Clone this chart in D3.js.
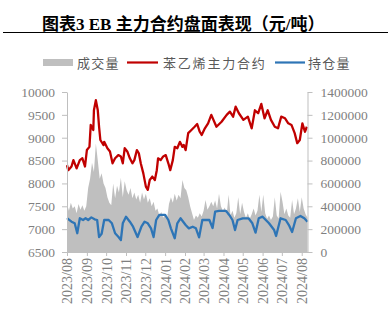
<!DOCTYPE html>
<html><head><meta charset="utf-8">
<script src="https://cdn.jsdelivr.net/npm/d3@7/dist/d3.min.js"></script>
<style>
html,body{margin:0;padding:0;background:#fff;}
svg{display:block;}
</style></head>
<body>
<svg id="c" width="388" height="326"></svg>
<script>
// ---------- DATA ----------
const titleText = "图表3 EB 主力合约盘面表现（元/吨）";
const legendLabels = ["成交量", "苯乙烯主力合约", "持仓量"];
const leftTicks = [6500, 7000, 7500, 8000, 8500, 9000, 9500, 10000];
const rightTicks = [0, 200000, 400000, 600000, 800000, 1000000, 1200000, 1400000];
const monthTicks = ["2023/08","2023/09","2023/10","2023/11","2023/12","2024/01","2024/02","2024/03","2024/04","2024/05","2024/06","2024/07","2024/08"];

// 苯乙烯主力合约 price (元/吨), left axis
const priceDates = ["2023-08-01","2023-08-03","2023-08-08","2023-08-11","2023-08-16","2023-08-21","2023-08-25","2023-08-29",
 "2023-09-01","2023-09-05","2023-09-07","2023-09-11","2023-09-12","2023-09-15","2023-09-18","2023-09-20","2023-09-22","2023-09-27","2023-09-28",
 "2023-10-03","2023-10-07","2023-10-11","2023-10-15","2023-10-20","2023-10-24","2023-10-27","2023-10-30",
 "2023-11-03","2023-11-07","2023-11-11","2023-11-14","2023-11-18","2023-11-21","2023-11-24","2023-11-28",
 "2023-12-02","2023-12-05","2023-12-08","2023-12-12","2023-12-16","2023-12-19","2023-12-21","2023-12-25","2023-12-29",
 "2024-01-02","2024-01-06","2024-01-09","2024-01-13","2024-01-16","2024-01-20","2024-01-24","2024-01-28","2024-01-30",
 "2024-02-02","2024-02-06","2024-02-11","2024-02-16","2024-02-20","2024-02-24","2024-02-27",
 "2024-03-03","2024-03-08","2024-03-13","2024-03-21","2024-03-29",
 "2024-04-06","2024-04-11","2024-04-16","2024-04-20","2024-04-25",
 "2024-05-02","2024-05-09","2024-05-15","2024-05-20","2024-05-25","2024-05-30",
 "2024-06-04","2024-06-09","2024-06-14","2024-06-20","2024-06-25","2024-06-30",
 "2024-07-06","2024-07-11","2024-07-16","2024-07-21","2024-07-25","2024-07-29",
 "2024-08-02","2024-08-06","2024-08-09"];
const priceValues = [8400,8290,8370,8510,8330,8510,8550,8370,
 8730,8800,9280,9170,9600,9820,9600,9240,8950,8840,8910,
 8770,8700,8440,8550,8620,8590,8440,8770,
 8700,8550,8440,8510,8730,8660,8440,8220,
 7930,7860,8075,8150,8075,8290,8550,8510,8590,
 8620,8440,8290,8510,8800,8770,8910,8800,8840,
 8730,9100,9170,9240,9300,9130,9060,
 9205,9315,9500,9240,9350,
 9500,9570,9460,9680,9535,
 9390,9460,9205,9600,9535,9740,
 9425,9600,9390,9240,9205,9460,
 9425,9315,9280,9100,8880,8950,
 9315,9130,9240];

// 持仓量 open interest, right axis
const oiDates = ["2023-08-01","2023-08-08","2023-08-13","2023-08-17","2023-08-21","2023-08-26","2023-08-30","2023-09-03","2023-09-08","2023-09-13",
 "2023-09-17","2023-09-20","2023-09-24","2023-09-28","2023-10-05","2023-10-10","2023-10-15","2023-10-20","2023-10-24","2023-10-27",
 "2023-11-01","2023-11-07","2023-11-12","2023-11-19","2023-11-25","2023-11-30","2023-12-05","2023-12-10","2023-12-14",
 "2023-12-18","2023-12-23","2024-01-01","2024-01-06","2024-01-10","2024-01-16","2024-01-20","2024-01-25",
 "2024-02-02","2024-02-07","2024-02-13","2024-02-18","2024-02-23","2024-02-28","2024-03-10","2024-03-15","2024-03-19","2024-03-25",
 "2024-04-05","2024-04-10","2024-04-15","2024-04-19","2024-04-23","2024-05-01","2024-05-10","2024-05-16","2024-05-21","2024-05-26",
 "2024-06-01","2024-06-11","2024-06-19","2024-06-22","2024-06-29","2024-07-07","2024-07-12","2024-07-17","2024-07-23","2024-07-30",
 "2024-08-05","2024-08-10"];
const oiValues = [297000,265000,251000,164000,295000,280000,295000,280000,303000,286000,
 280000,131000,160000,280000,280000,251000,164000,134000,105000,251000,
 309000,265000,221000,131000,221000,265000,251000,207000,131000,
 280000,324000,324000,280000,207000,120000,251000,295000,
 236000,207000,221000,207000,128000,280000,280000,210000,353000,359000,
 359000,324000,280000,192000,280000,295000,295000,251000,169000,295000,
 309000,251000,192000,140000,295000,280000,236000,175000,295000,315000,
 295000,265000];

// 成交量 volume, right axis — one reading every 3 calendar days from 2023-08-01
const volumeStart = "2023-08-01";
const volumeStepDays = 3;
const volumeValues = [420000,360000,430000,380000,400000,340000,420000,370000,410000,360000,
 400000,560000,640000,780000,700000,950000,800000,640000,690000,600000,
 560000,480000,430000,410000,600000,470000,580000,520000,650000,480000,
 620000,540000,500000,560000,470000,520000,460000,500000,430000,520000,
 460000,510000,430000,470000,400000,440000,360000,380000,320000,350000,
 300000,330000,290000,420000,480000,430000,510000,450000,500000,470000,
 630000,560000,540000,480000,400000,340000,280000,320000,300000,340000,
 310000,360000,455000,370000,400000,440000,400000,450000,380000,510000,
 400000,360000,390000,330000,500000,320000,360000,300000,340000,480000,
 330000,430000,350000,300000,340000,290000,330000,380000,320000,360000,
 500000,350000,500000,340000,290000,320000,280000,310000,480000,320000,
 290000,527000,440000,330000,380000,320000,300000,455000,330000,380000,
 470000,350000,480000,380000,330000,300000];

// ---------- CHART ----------
const parse = d3.timeParse("%Y-%m-%d");
const svg = d3.select("#c");
const M = {left: 67, right: 307.5, top: 92, bottom: 252};
const latin = "'Liberation Serif', 'Times New Roman', serif";
const cjk = "'Liberation Serif', 'Noto Sans CJK SC', sans-serif";
const axisColor = "#bfbfbf", textColor = "#7f7f7f";

const x = d3.scaleTime().domain([parse("2023-08-01"), parse("2024-08-10")]).range([M.left, M.right]);
const yL = d3.scaleLinear().domain([6500, 10000]).range([M.bottom, M.top]);
const yR = d3.scaleLinear().domain([0, 1400000]).range([M.bottom, M.top]);

const price = priceDates.map((d, i) => ({d: parse(d), v: priceValues[i]}));
const oi = oiDates.map((d, i) => ({d: parse(d), v: oiValues[i]}));
const vStart = parse(volumeStart);
const vol = volumeValues.map((v, i) => ({d: d3.timeDay.offset(vStart, i * volumeStepDays), v}));

// title
svg.append("text").attr("x", 42).attr("y", 30)
  .style("font-family", cjk).attr("font-weight", "bold").attr("font-size", 17)
  .attr("fill", "#000").text(titleText);
svg.append("line").attr("x1", 3).attr("x2", 388).attr("y1", 32.5).attr("y2", 32.5)
  .attr("stroke", "#000").attr("stroke-width", 1);

// legend
const lg = svg.append("g").style("font-family", cjk).attr("font-size", 13).attr("fill", "#595959");
lg.append("rect").attr("x", 43).attr("y", 59).attr("width", 30).attr("height", 7).attr("fill", "#bfbfbf");
lg.append("text").attr("x", 77).attr("y", 67.5).attr("letter-spacing", 1.2).text(legendLabels[0]);
lg.append("line").attr("x1", 127).attr("x2", 158).attr("y1", 62.5).attr("y2", 62.5).attr("stroke", "#c00000").attr("stroke-width", 2.2);
lg.append("text").attr("x", 163).attr("y", 67.5).attr("letter-spacing", 1.8).text(legendLabels[1]);
lg.append("line").attr("x1", 275).attr("x2", 305).attr("y1", 62.5).attr("y2", 62.5).attr("stroke", "#2e75b6").attr("stroke-width", 2.2);
lg.append("text").attr("x", 308).attr("y", 67.5).attr("letter-spacing", 1.2).text(legendLabels[2]);

// volume area
svg.append("path").datum(vol)
  .attr("fill", "#bfbfbf")
  .attr("d", d3.area().x(d => x(d.d)).y0(yR(0)).y1(d => yR(d.v)));

// price line
svg.append("path").datum(price)
  .attr("fill", "none").attr("stroke", "#c00000").attr("stroke-width", 2.3).attr("stroke-linejoin", "round")
  .attr("d", d3.line().x(d => x(d.d)).y(d => yL(d.v)));

// open interest line
svg.append("path").datum(oi)
  .attr("fill", "none").attr("stroke", "#2e75b6").attr("stroke-width", 2.3).attr("stroke-linejoin", "round")
  .attr("d", d3.line().x(d => x(d.d)).y(d => yR(d.v)));

function styleAxis(g) {
  g.attr("font-family", null);
  g.selectAll("path,line").attr("stroke", axisColor);
  g.selectAll("text").attr("fill", textColor).style("font-family", latin);
}

// left axis
svg.append("g").attr("transform", `translate(${M.left},0)`)
  .call(d3.axisLeft(yL).tickValues(leftTicks).tickSize(5).tickSizeOuter(0).tickPadding(7).tickFormat(d3.format("d")))
  .call(styleAxis)
  .call(g => g.selectAll("text").style("font-size", "13.5px"));

// right axis
svg.append("g").attr("transform", `translate(${M.right},0)`)
  .call(d3.axisRight(yR).tickValues(rightTicks).tickSize(5).tickSizeOuter(0).tickPadding(8).tickFormat(d3.format("d")))
  .call(styleAxis)
  .call(g => g.selectAll("text").style("font-size", "13.5px"));

// bottom axis
const monthDates = monthTicks.map(s => d3.timeParse("%Y/%m")(s));
const bx = svg.append("g").attr("transform", `translate(0,${M.bottom})`)
  .call(d3.axisBottom(x).tickValues(monthDates).tickSize(4).tickSizeOuter(0).tickFormat(d3.timeFormat("%Y/%m")))
  .call(styleAxis);
bx.selectAll("text")
  .style("font-size", "14px")
  .attr("text-anchor", "end")
  .attr("transform", "rotate(-90)")
  .attr("x", -6).attr("y", 0).attr("dy", "0.35em");
</script>
</body></html>
